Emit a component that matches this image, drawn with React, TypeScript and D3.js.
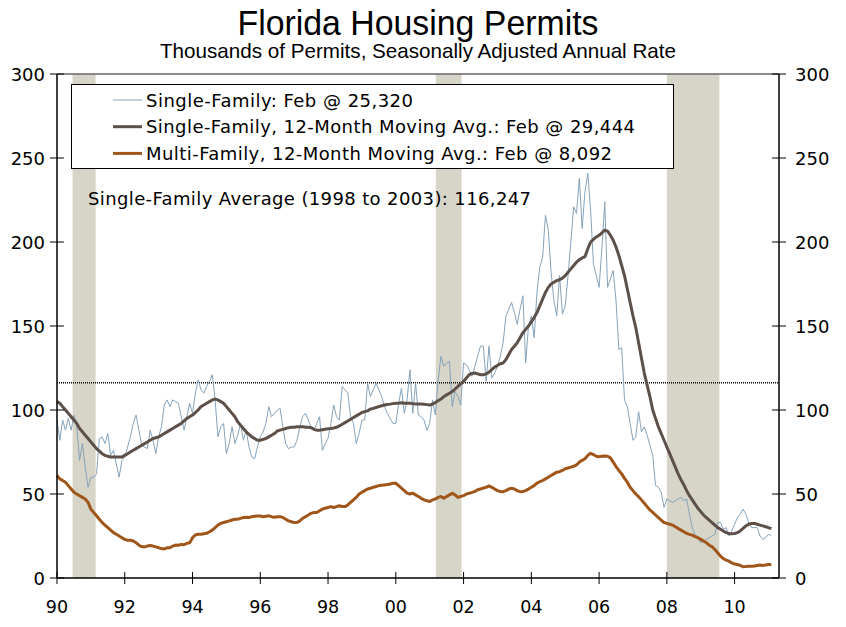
import React, { useEffect, useRef } from 'react'
import * as d3 from 'd3'

// monthly data, Jan 1990 .. Feb 2011 (thousands, SAAR)
const startYear = 1990

const singleFamily = [
  94, 82, 94, 88, 95, 88, 97, 90, 70, 80, 66, 54, // 1990
  60, 60, 62, 83, 84, 80, 86, 73, 76, 68, 60, 70, // 1991
  72, 78, 84, 92, 97, 88, 79, 78, 77, 88, 82, 74, // 1992
  84, 90, 103, 106, 102, 106, 105, 104, 96, 88, 96, 104, // 1993
  98, 110, 118, 112, 110, 114, 117, 121, 106, 84, 90, 92, // 1994
  74, 80, 90, 80, 85, 92, 82, 88, 78, 72, 71, 78, // 1995
  84, 87, 92, 102, 96, 98, 100, 101, 90, 80, 77, 78, // 1996
  78, 82, 90, 96, 98, 94, 90, 88, 92, 96, 76, 80, // 1997
  83, 92, 103, 96, 94, 114, 112, 110, 96, 92, 80, 86, // 1998
  94, 94, 116, 108, 112, 116, 112, 108, 102, 98, 95, 92, // 1999
  92, 104, 113, 98, 106, 124, 98, 116, 97, 96, 94, 88, // 2000
  92, 106, 97, 118, 132, 126, 128, 129, 102, 111, 108, 103, // 2001
  128, 127, 124, 120, 126, 132, 138, 138, 117, 138, 119, 122, // 2002
  126, 132, 140, 156, 160, 164, 158, 151, 160, 168, 128, 150, // 2003
  156, 143, 170, 185, 191, 216, 207, 182, 165, 156, 180, 157, // 2004
  162, 180, 200, 221, 217, 238, 208, 230, 241, 219, 187, 180, // 2005
  173, 196, 224, 173, 178, 183, 165, 136, 137, 106, 102, 92, // 2006
  82, 84, 99, 87, 90, 85, 79, 73, 55, 54, 51, 42, // 2007
  47, 46, 45, 46, 47, 48, 46, 47, 38, 30, 26, 24, // 2008
  21, 22, 23, 24, 25, 26, 33, 33, 29, 30, 25, 28, // 2009
  32, 36, 38, 41, 38, 33, 30, 30, 30, 25, 23, 24, // 2010
  26, 25.3 // 2011
]

const singleFamilyAvg = [
  105, 104, 102, 100, 98, 96, 94, 92, 89, 87, 85, 83,
  81, 79, 77, 75.5, 74, 73, 72.5, 72, 72, 72, 72, 72,
  73, 74, 75, 76, 77, 78, 79, 80, 81, 82, 83, 83.5,
  84, 85, 86, 87, 88, 89, 90, 91, 92, 93.5, 95, 96,
  97, 98.5, 100, 102, 103, 104, 105, 106, 106.5, 106, 105, 104,
  102, 100, 98, 96, 93, 91, 89, 87, 85.5, 84, 83, 82,
  82, 82.5, 83, 84, 85, 86, 87.5, 88, 88.5, 89, 89.5, 89.7,
  89.7, 90, 90, 90, 89.8, 89.7, 89.5, 88.5, 88, 88, 88.3, 88.6,
  88.8, 89, 89.3, 89.7, 90.5, 91.5, 92.5, 93.5, 94.5, 95.5, 96.5, 97.5,
  98.5, 99, 99.5, 100.5, 101, 101.5, 102, 102.5, 103, 103.3, 103.5, 103.8,
  104, 104, 104.3, 104, 104, 104, 103.8, 103.6, 103.6, 103.6, 103.4, 103.2,
  103, 103.5, 104.5, 105.5, 106.5, 108, 109, 110, 111, 112.5, 114, 115.5,
  117, 119, 121, 121.8, 122, 121.5, 121, 121, 121.5, 122.5, 124, 125.5,
  126.5, 127.5, 128, 130, 133, 136, 138, 140, 143, 146, 148, 150,
  152.5, 155, 158, 162, 166, 170, 173, 175, 176, 177, 177.5, 178.5,
  180, 182, 184, 186, 188, 189.5, 190.5, 191.3, 196, 200, 201.5, 203,
  204, 205.5, 207, 206.5, 204, 201, 197, 192, 186, 180, 172, 164,
  156, 149, 140, 131, 122, 115, 108, 100, 95, 90, 86, 82,
  78, 74, 70, 66, 62, 58.5, 55.5, 52, 49, 46.5, 44, 41.5,
  39.5, 37.5, 36, 34.5, 33, 31.5, 30, 29, 28, 27, 26.5, 26.3,
  26.5, 27, 28, 29.5, 31, 32, 32.5, 32.5, 32, 31.5, 31, 30.5,
  30, 29.4
]

const multiFamilyAvg = [
  61, 59, 58, 57, 55, 53, 51, 50, 49, 48, 47, 45,
  41, 39, 37, 35, 33, 31.5, 30, 28.5, 27, 26, 25, 24,
  23, 22.5, 22.5, 22, 21, 19.5, 18.7, 18.5, 19, 19.3, 19, 18.5,
  18, 17.5, 17.3, 18, 18, 19, 19.6, 19.5, 20, 19.8, 20.6, 21,
  24, 25.6, 26, 26, 26.3, 26.6, 27.5, 28.5, 30, 31.5, 32.5, 33,
  33.5, 34, 34.5, 35, 35, 35.5, 36, 36.2, 36, 36.5, 36.8, 36.9,
  36.9, 36.5, 36.8, 37, 36.5, 36.2, 36.5, 36.5, 36, 35, 34, 33.5,
  33, 33, 34, 35.5, 36.5, 37.5, 38.5, 39, 39, 40, 41, 41.5,
  42, 42.5, 42, 42.5, 43, 42.5, 42.5, 43.5, 45, 46.5, 48, 50,
  51, 52, 53, 53.4, 54, 54.5, 55, 55.2, 55.4, 55.6, 56, 56.4,
  56.4, 55, 53.5, 52, 50.5, 50, 50.5, 49.5, 48.5, 47.4, 46.5, 46,
  45.5, 46.5, 47, 48, 48.5, 47.5, 48.5, 49.5, 50.4, 49.5, 48, 48.5,
  49, 50, 50.4, 51, 51.5, 52.5, 53, 53.5, 54, 54.8, 54, 53,
  52, 51.5, 51.4, 52, 53, 53.4, 53, 52, 51.4, 51.5, 52, 53,
  54, 55, 56.5, 57.3, 58, 59, 60, 61, 62, 63, 63.3, 64,
  65, 65.5, 66, 66.5, 67.3, 69, 70, 71, 73, 74.2, 73.5, 72.5,
  72.2, 72.5, 72.6, 72.5, 71.5, 69, 66.3, 64, 62, 59.3, 57, 54,
  52, 50, 48.4, 46.5, 44.5, 42.5, 40.5, 39, 37.5, 36, 34.5, 33,
  32.5, 32, 31.5, 30.5, 29.5, 28.5, 27.5, 26.6, 26, 25.5, 24.6, 24,
  23, 22, 21, 19.5, 18.7, 17, 15, 13, 11.5, 10.7, 10, 9,
  8.3, 8, 7.5, 6.7, 6.8, 7, 7, 7.2, 7.5, 7.7, 7.5, 7.8,
  8, 8.1
]

const recessions = [[1990.46, 1991.14], [2001.18, 2001.94], [2008.0, 2009.55]]
const sfAverage = 116.247
const yTicks = [0, 50, 100, 150, 200, 250, 300]
const xTicks = [1990, 1992, 1994, 1996, 1998, 2000, 2002, 2004, 2006, 2008, 2010]

const legendItems = [
  { label: 'Single-Family: Feb @ 25,320', color: '#86a3bb', width: 1, len: 267 },
  { label: 'Single-Family, 12-Month Moving Avg.: Feb @ 29,444', color: '#5d5048', width: 3, len: 489 },
  { label: 'Multi-Family, 12-Month Moving Avg.: Feb @ 8,092', color: '#a0561a', width: 3, len: 466 }
]

const W = 846
const H = 627
const left = 57
const right = 779
const top = 74
const bottom = 578
const font = '"DejaVu Sans", Verdana, sans-serif'
const titleFont = '"Liberation Sans", Arial, sans-serif'

function App() {
  const ref = useRef<SVGSVGElement>(null)

  useEffect(() => {
    const svg = d3.select(ref.current)
    svg.selectAll('*').remove()

    const x = d3.scaleLinear().domain([1990, 2011.31]).range([left, right])
    const y = d3.scaleLinear().domain([0, 300]).range([bottom, top])
    const t = (i: number) => startYear + i / 12

    // title
    svg.append('text')
      .attr('x', 418).attr('y', 35)
      .attr('text-anchor', 'middle')
      .attr('textLength', 361)
      .attr('lengthAdjust', 'spacingAndGlyphs')
      .style('font-family', titleFont)
      .style('font-size', '35px')
      .text('Florida Housing Permits')
    svg.append('text')
      .attr('x', 418).attr('y', 58)
      .attr('text-anchor', 'middle')
      .attr('textLength', 516)
      .attr('lengthAdjust', 'spacingAndGlyphs')
      .style('font-family', titleFont)
      .style('font-size', '21px')
      .text('Thousands of Permits, Seasonally Adjusted Annual Rate')

    // recession bands
    svg.append('g').selectAll('rect')
      .data(recessions)
      .enter()
      .append('rect')
      .attr('x', d => x(d[0]))
      .attr('width', d => x(d[1]) - x(d[0]))
      .attr('y', top)
      .attr('height', bottom - top)
      .attr('fill', '#d7d4c8')

    // average line
    svg.append('line')
      .attr('x1', left).attr('x2', right)
      .attr('y1', y(sfAverage)).attr('y2', y(sfAverage))
      .attr('stroke', '#000')
      .attr('stroke-width', 1.5)
      .attr('stroke-dasharray', '1,1')

    const line = d3.line<number>()
      .x((d, i) => x(t(i)))
      .y(d => y(d))

    const series = [singleFamily, singleFamilyAvg, multiFamilyAvg]
    series.forEach((s, k) => {
      svg.append('path')
        .datum(s)
        .attr('d', line)
        .attr('fill', 'none')
        .attr('stroke', legendItems[k].color)
        .attr('stroke-width', legendItems[k].width)
        .attr('stroke-linejoin', 'round')
    })

    // frame / axes
    svg.append('line')
      .attr('x1', left).attr('x2', right).attr('y1', top).attr('y2', top)
      .attr('stroke', '#666').attr('stroke-width', 1.5)
    svg.append('line')
      .attr('x1', left).attr('x2', left).attr('y1', top).attr('y2', bottom)
      .attr('stroke', '#000').attr('stroke-width', 1.5)
    svg.append('line')
      .attr('x1', right).attr('x2', right).attr('y1', top).attr('y2', bottom)
      .attr('stroke', '#000').attr('stroke-width', 1.5)
    svg.append('line')
      .attr('x1', left).attr('x2', right).attr('y1', bottom).attr('y2', bottom)
      .attr('stroke', '#000').attr('stroke-width', 1.5)

    const yt = svg.append('g')
    yTicks.forEach(v => {
      yt.append('line')
        .attr('x1', left - 7).attr('x2', left + 7)
        .attr('y1', y(v)).attr('y2', y(v))
        .attr('stroke', '#000').attr('stroke-width', 1)
      yt.append('line')
        .attr('x1', right - 7).attr('x2', right + 7)
        .attr('y1', y(v)).attr('y2', y(v))
        .attr('stroke', '#000').attr('stroke-width', 1)
      yt.append('text')
        .attr('x', 45).attr('y', y(v) + 6.5)
        .attr('text-anchor', 'end')
        .style('font-family', font).style('font-size', '18px')
        .text(v)
      yt.append('text')
        .attr('x', 795).attr('y', y(v) + 6.5)
        .attr('text-anchor', 'start')
        .style('font-family', font).style('font-size', '18px')
        .text(v)
    })

    const xt = svg.append('g')
    xTicks.forEach(v => {
      xt.append('line')
        .attr('x1', x(v)).attr('x2', x(v))
        .attr('y1', bottom - 6).attr('y2', bottom + 6)
        .attr('stroke', '#000').attr('stroke-width', 1)
      xt.append('text')
        .attr('x', x(v)).attr('y', 613)
        .attr('text-anchor', 'middle')
        .style('font-family', font).style('font-size', '17.5px')
        .text(String(v % 100).padStart(2, '0'))
    })

    // legend
    const lg = svg.append('g')
    lg.append('rect')
      .attr('x', 71.5).attr('y', 84.5)
      .attr('width', 602).attr('height', 84)
      .attr('fill', '#fff').attr('stroke', '#000').attr('stroke-width', 1)
    legendItems.forEach((d, i) => {
      const cy = 100 + i * 26.7
      lg.append('line')
        .attr('x1', 113).attr('x2', 142)
        .attr('y1', cy).attr('y2', cy)
        .attr('stroke', d.color).attr('stroke-width', d.width)
      lg.append('text')
        .attr('x', 146).attr('y', cy + 6.5)
        .attr('textLength', d.len)
        .style('font-family', font).style('font-size', '18px')
        .text(d.label)
    })

    svg.append('text')
      .attr('x', 88).attr('y', 205)
      .attr('textLength', 443)
      .style('font-family', font).style('font-size', '18px')
      .text('Single-Family Average (1998 to 2003): 116,247')
  }, [])

  return (
    <svg ref={ref} width={W} height={H}
      style={{ position: 'absolute', left: 0, top: 0, background: '#fff' }} />
  )
}

export default App
